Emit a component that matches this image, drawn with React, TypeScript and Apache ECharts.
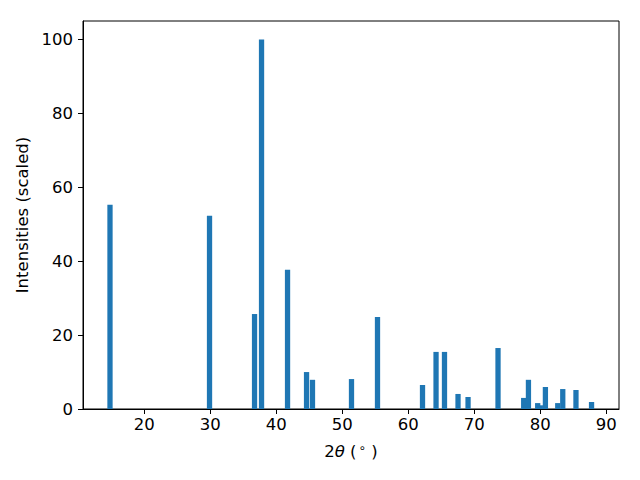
import React, { useEffect, useRef } from "react";
import * as echarts from "echarts";

const twoTheta = [
  14.8, 29.88, 36.7, 37.76, 41.7, 44.58, 45.48, 51.39, 55.33, 62.15, 64.2, 65.48,
  67.53, 69.05, 73.59, 77.48, 78.2, 79.6, 80.0, 80.77, 82.64, 83.4, 85.4, 87.76,
];
const intensities = [
  55.3, 52.3, 25.7, 100, 37.7, 10.0, 7.9, 8.1, 24.9, 6.5, 15.45, 15.45,
  4.07, 3.25, 16.5, 3.0, 7.9, 1.6, 1.0, 5.96, 1.6, 5.4, 5.15, 1.9,
];
const xTicks = [20, 30, 40, 50, 60, 70, 80, 90];
const yTicks = [0, 20, 40, 60, 80, 100];

export default function App() {
  const ref = useRef<HTMLDivElement>(null);
  useEffect(() => {
    if (!ref.current) return;
    const chart = echarts.init(ref.current, null, { renderer: "svg" });
    const font = "DejaVu Sans";
    const fs = 16.5;
    chart.setOption({
      animation: false,
      backgroundColor: "#ffffff",
      textStyle: { fontFamily: font },
      grid: {
        left: 83,
        right: 21,
        top: 21,
        bottom: 71,
        show: true,
        borderColor: "#000",
        borderWidth: 1,
        backgroundColor: "transparent",
      },
      xAxis: {
        type: "value",
        min: 10.71,
        max: 91.92,
        name: "{n|2}{i|θ}{n| (}{s|∘}{n| )}",
        nameLocation: "middle",
        nameGap: 33,
        nameTextStyle: {
          fontFamily: font,
          fontSize: fs,
          color: "#000",
          rich: {
            n: { fontFamily: font, fontSize: fs, color: "#000" },
            i: { fontFamily: font, fontSize: fs, color: "#000", fontStyle: "italic" },
            s: { fontFamily: font, fontSize: 12, color: "#000", verticalAlign: "top", padding: [0, 0, 6, 2] },
          },
        },
        axisLine: { show: true, lineStyle: { color: "#000", width: 1 } },
        axisTick: {
          show: true,
          length: 5,
          lineStyle: { color: "#000", width: 1 },
          customValues: xTicks,
        },
        axisLabel: {
          customValues: xTicks,
          margin: 7,
          fontFamily: font,
          fontSize: fs,
          color: "#000",
        },
        splitLine: { show: false },
      },
      yAxis: {
        type: "value",
        min: 0,
        max: 105,
        name: "Intensities (scaled)",
        nameLocation: "middle",
        nameGap: 45,
        nameTextStyle: { fontFamily: font, fontSize: fs, color: "#000" },
        axisLine: { show: true, lineStyle: { color: "#000", width: 1 } },
        axisTick: {
          show: true,
          length: 5,
          lineStyle: { color: "#000", width: 1 },
          customValues: yTicks,
        },
        axisLabel: {
          customValues: yTicks,
          margin: 10,
          fontFamily: font,
          fontSize: fs,
          color: "#000",
        },
        splitLine: { show: false },
      },
      series: [
        {
          type: "bar",
          barWidth: 5.28,
          itemStyle: { color: "#1f77b4" },
          data: twoTheta.map((x, i) => [x, intensities[i]]),
        },
      ],
    });
    return () => chart.dispose();
  }, []);
  return (
    <div
      ref={ref}
      style={{ position: "fixed", left: 0, top: 0, width: 640, height: 480 }}
    />
  );
}
